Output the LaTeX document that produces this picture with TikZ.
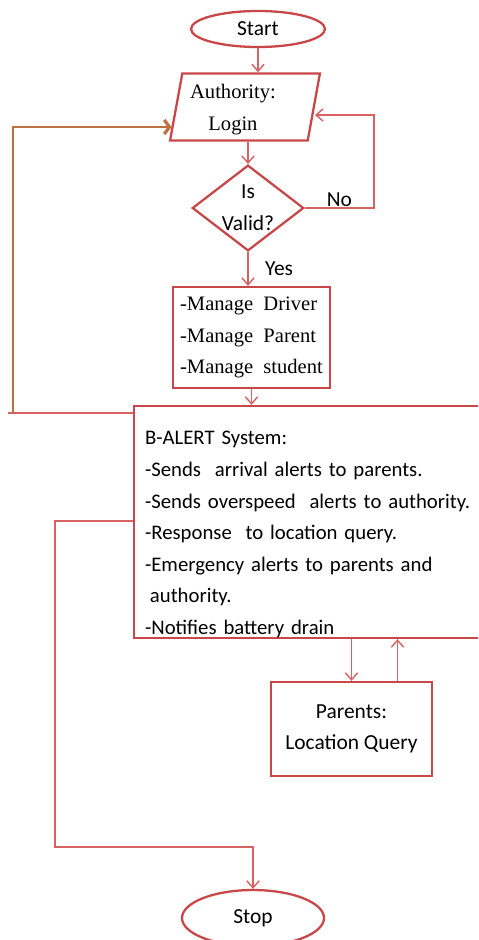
\documentclass[tikz,border=0pt]{standalone}
\usepackage{fontspec}
\setmainfont{Carlito}
\newfontfamily\serifrm{Liberation Serif}
\usetikzlibrary{shapes.geometric,arrows.meta,positioning}

\definecolor{boxred}{RGB}{200,72,74}
\definecolor{linered}{RGB}{214,98,100}
\definecolor{loopbrown}{RGB}{188,112,68}

\tikzset{
  terminal/.style={ellipse,draw=boxred,line width=1.3pt,inner sep=0pt},
  inbox/.style={trapezium,trapezium left angle=80,trapezium right angle=100,
    trapezium stretches=true,draw=boxred,line width=1.3pt,align=center,
    minimum width=3cm,minimum height=1.32cm,font=\serifrm\fontsize{11.7}{18}\selectfont},
  decision/.style={diamond,draw=boxred,line width=1.3pt,align=center,
    minimum width=2.18cm,minimum height=1.66cm,inner sep=0pt,aspect=1.3},
  process/.style={rectangle,draw=boxred,line width=1.3pt},
  arr/.style={draw=linered,line width=0.8pt,-{Straight Barb[length=4pt,width=7pt]}},
  backloop/.style={draw=loopbrown,line width=0.9pt,-{Straight Barb[length=3pt,width=8pt,line width=1.8pt]}}
}

\begin{document}
\begin{tikzpicture}[x=0.02cm,y=-0.02cm,font=\fontsize{12.2}{18}\selectfont]
  \useasboundingbox[fill=white] (0,0) rectangle (478,940);
  \clip (0,0) rectangle (478,940);

  % flow boxes
  \node[terminal,minimum width=2.68cm,minimum height=0.72cm] (start) at (258,29) {Start};
  \node[inbox] (login) at (245,107) {\rule{0pt}{11pt}Authority:\hspace*{13.7pt}\\Login\hspace*{13.7pt}};
  \node[decision] (valid) at (248,208) {Is\\Valid?};
  \node[process,align=left,minimum width=3.14cm,minimum height=2.02cm,
    font=\serifrm\fontsize{11.7}{18}\selectfont] (manage) at (251.5,337.5)
    {-Manage\ \ Driver\\-Manage\ \ Parent\\-Manage\ \ student};
  \node[process,align=left,text width=6.88cm,inner xsep=0.22cm,inner ysep=0pt,
    minimum height=4.64cm,font=\fontsize{11.8}{18}\selectfont] (alert) at (317,522)
    {\rule{0pt}{22pt}B-ALERT System:\\
     -Sends\ \ arrival alerts to parents.\\
     -Sends overspeed\ \ alerts to authority.\\
     -Response\ \ to location query.\\
     -Emergency alerts to parents and\\
     \hspace*{2.8pt}authority.\\
     -Notifies battery drain};
  \node[process,align=center,minimum width=3.22cm,minimum height=1.88cm] (parents) at (351.5,729)
    {Parents:\\Location Query};
  \node[terminal,minimum width=2.84cm,minimum height=1.12cm] (stop) at (253,918) {Stop};

  % connectors
  \draw[arr] (start.south) -- (start.south |- login.north);
  \draw[arr] (valid.north |- login.south) -- (valid.north);
  \draw[arr] (valid.east) -- node[above=-3pt]{No} ++(69,0) |- (login.east |- 0,115);
  \draw[arr] (valid.south) -- node[right=6pt]{Yes} (valid.south |- manage.north);
  \draw[arr] (manage.south) -- (manage.south |- alert.north);

  % back to login
  \draw[draw=linered,line width=0.8pt] (alert.west |- 0,413) -- (8,413);
  \draw[backloop,shorten >=2pt] (13,413) -- (13,127) -- (login.west |- 0,127);

  \draw[arr] (alert.west |- 0,521) -| (55,847) -| (stop.north);
  \draw[arr] (parents.north |- alert.south) -- (parents.north);
  \draw[arr] (parents.north) ++(46,0) coordinate (query) -- (query |- alert.south);
\end{tikzpicture}
\end{document}
